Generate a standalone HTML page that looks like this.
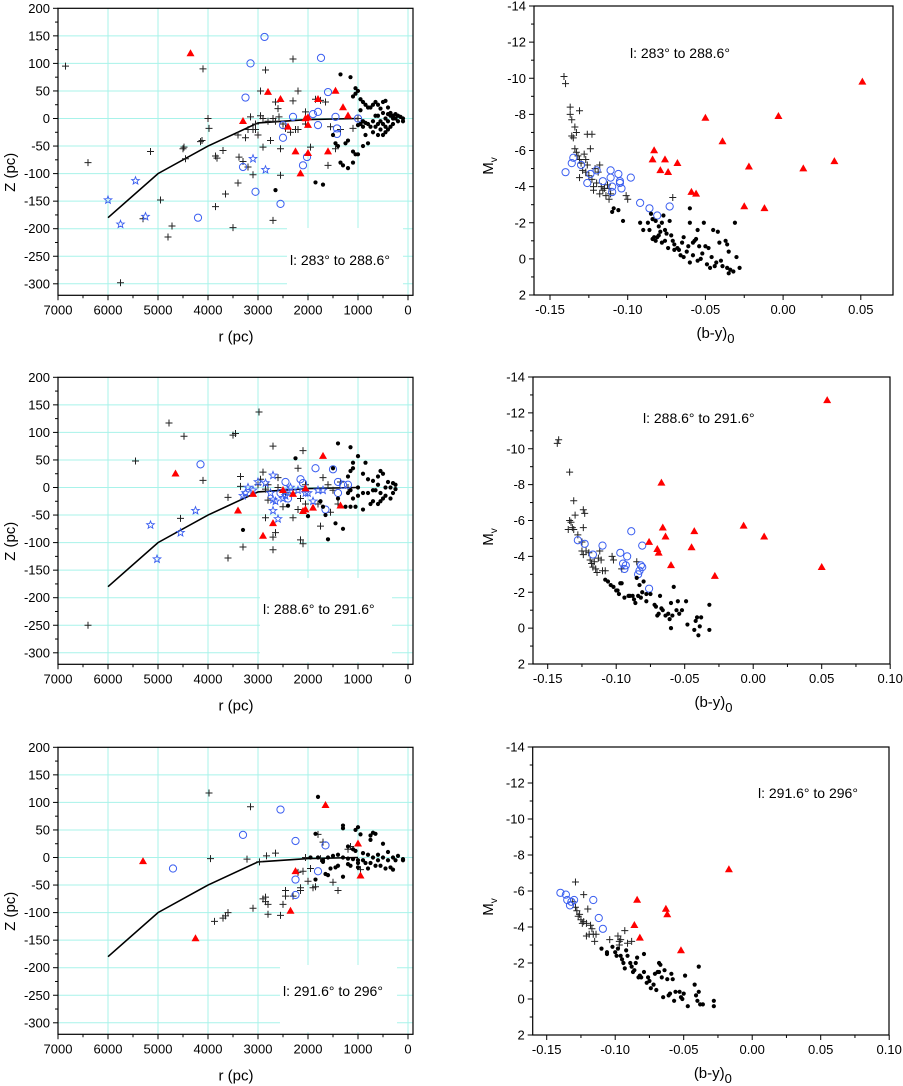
<!DOCTYPE html>
<html><head><meta charset="utf-8"><style>
html,body{margin:0;padding:0;background:#fff;}
svg{display:block;font-family:"Liberation Sans",Arial,sans-serif;}
</style></head><body>
<svg id="fig" width="903" height="1086" viewBox="0 0 903 1086" xmlns="http://www.w3.org/2000/svg"></svg>
<script>
// ---------- Panel 1 (l: 283 to 288.6) ----------
const p1rzPlus=[[6850,95],[6400,-80],[5150,-60],[4950,-148],[4720,-195],[4800,-215],[4100,90],[4000,0],[3980,-18],[4150,-42],[4120,-40],[4500,-55],[4480,-52],[4450,-73],[3850,-68],[3820,-72],[3850,-160],[3700,-58],[3650,-137],[3500,-198],[3400,-117],[3380,-70],[3300,-78],[3250,-35],[3200,-88],[3100,-102],[3150,3],[3100,-20],[3050,-10],[2950,50],[2850,88],[2900,-52],[2700,-185],[2800,-5],[2750,-40],[2650,30],[2600,18],[2580,3],[2550,-55],[2550,-103],[2500,-10],[2450,-18],[2300,32],[2300,108],[2200,50],[2200,-20],[2050,12],[2050,-10],[1950,-52],[1850,35],[1750,33],[1650,30],[1600,-85],[1550,-15],[1450,-55],[1350,-20],[1100,-18],[1000,0],[3000,-30],[2900,0],[2700,0],[2650,-5],[3400,-30],[3200,-20],[2350,-25],[2250,-20],[5750,-298],[5300,-182],[3050,-20],[2950,5]];
const p1rzCirc=[[2870,148],[1740,110],[3150,100],[3250,38],[1600,48],[2300,3],[1900,8],[1800,12],[1450,3],[1000,0],[2500,-12],[2500,-35],[1800,-12],[1420,-18],[1420,-28],[2020,-70],[2100,-85],[3300,-88],[3050,-133],[2550,-155],[4200,-180]];
const p1rzStar=[[6000,-148],[5450,-113],[5750,-192],[5250,-178],[3100,-73],[2850,-93]];
const p1rzTri=[[4350,118],[3300,-5],[2800,48],[2550,35],[2050,0],[2000,2],[2000,-12],[2400,-15],[1800,35],[1450,50],[1300,20],[1200,5],[2250,-60],[2000,-63],[1600,-60],[2150,-100]];
const p1rzDot=[[1700,-120],[1850,-116],[2650,-130],[1350,80],[1150,75],[1500,-30],[1450,-45],[1400,-50],[1350,-80],[1300,-85],[1200,-90],[1100,-80],[1200,-40],[1250,-45],[1100,-60],[1050,-65],[1000,-65],[900,-50],[850,-30],[800,-45],[1100,40],[1050,45],[1000,50],[1050,55],[950,35],[900,30],[850,25],[800,20],[750,20],[700,25],[650,30],[600,25],[550,18],[500,30],[450,32],[400,20],[350,10],[300,5],[250,0],[200,-5],[150,3],[100,0],[100,-5],[250,8],[300,-10],[350,-15],[400,-20],[450,-25],[500,-30],[550,-20],[600,-10],[650,-15],[700,-25],[750,-15],[800,-10],[850,-8],[900,-5],[950,-10],[1000,-12],[600,5],[550,-5],[500,-10],[450,0],[400,-5],[350,5],[300,0],[500,10],[450,-15],[600,-30],[700,-5],[650,5],[400,8],[200,5],[950,15],[900,-15]];
const p1cmPlus=[[-0.141,-10.1],[-0.140,-9.7],[-0.137,-8.4],[-0.137,-8.0],[-0.136,-7.7],[-0.131,-8.2],[-0.134,-7.3],[-0.133,-7.0],[-0.136,-6.8],[-0.135,-6.7],[-0.126,-6.9],[-0.123,-6.9],[-0.134,-6.1],[-0.133,-5.9],[-0.132,-5.7],[-0.131,-5.5],[-0.130,-5.3],[-0.128,-5.8],[-0.127,-5.5],[-0.124,-6.1],[-0.129,-4.9],[-0.131,-4.5],[-0.127,-4.8],[-0.125,-4.6],[-0.123,-4.4],[-0.121,-5.0],[-0.119,-4.8],[-0.118,-5.2],[-0.120,-4.2],[-0.117,-4.0],[-0.116,-3.8],[-0.114,-3.5],[-0.112,-3.3],[-0.111,-3.6],[-0.112,-3.9],[-0.122,-3.8],[-0.118,-3.6],[-0.115,-3.9],[-0.113,-4.1],[-0.101,-3.5],[-0.100,-3.3],[-0.071,-3.4],[-0.126,-5.2],[-0.122,-4.0]];
const p1cmCirc=[[-0.140,-4.8],[-0.136,-5.3],[-0.135,-5.6],[-0.130,-5.2],[-0.126,-4.2],[-0.124,-4.7],[-0.120,-4.9],[-0.116,-4.3],[-0.111,-4.9],[-0.111,-4.5],[-0.110,-4.0],[-0.110,-3.7],[-0.106,-4.7],[-0.105,-4.3],[-0.105,-4.2],[-0.104,-3.9],[-0.098,-4.5],[-0.092,-3.1],[-0.086,-2.8],[-0.081,-2.4],[-0.073,-2.9]];
const p1cmTri=[[0.051,-9.8],[-0.050,-7.8],[-0.003,-7.9],[-0.039,-6.5],[-0.083,-6.0],[-0.084,-5.5],[-0.076,-5.5],[-0.068,-5.3],[-0.079,-4.9],[-0.074,-4.8],[-0.022,-5.1],[0.013,-5.0],[0.033,-5.4],[-0.059,-3.7],[-0.056,-3.6],[-0.025,-2.9],[-0.012,-2.8]];
const p1cmDot=[[-0.110,-2.6],[-0.109,-2.8],[-0.106,-2.7],[-0.103,-2.1],[-0.087,-2.0],[-0.086,-1.6],[-0.085,-2.5],[-0.084,-2.2],[-0.082,-2.1],[-0.080,-1.8],[-0.078,-2.0],[-0.077,-2.4],[-0.075,-1.4],[-0.073,-2.1],[-0.083,-1.2],[-0.082,-1.0],[-0.080,-1.3],[-0.079,-1.5],[-0.078,-0.9],[-0.076,-1.0],[-0.074,-0.6],[-0.072,-1.3],[-0.071,-1.0],[-0.070,-0.5],[-0.068,-0.6],[-0.066,-0.2],[-0.065,-0.9],[-0.064,-1.2],[-0.062,-0.4],[-0.061,-0.7],[-0.060,-2.8],[-0.060,-2.0],[-0.060,0.2],[-0.058,-0.2],[-0.057,-1.0],[-0.056,-1.1],[-0.055,-1.6],[-0.054,-0.7],[-0.053,0.0],[-0.052,-0.3],[-0.051,-2.0],[-0.050,-0.7],[-0.049,0.3],[-0.047,0.5],[-0.046,-0.1],[-0.045,-1.6],[-0.044,0.4],[-0.042,-1.5],[-0.041,-0.9],[-0.040,0.1],[-0.039,0.4],[-0.037,-1.0],[-0.036,0.5],[-0.035,0.8],[-0.034,0.6],[-0.032,0.7],[-0.031,-2.0],[-0.030,-0.1],[-0.028,0.5],[-0.064,-0.1],[-0.067,-0.5],[-0.070,-0.8],[-0.076,-1.6],[-0.090,-1.6],[-0.092,-2.0],[-0.058,-0.9],[-0.048,-0.6],[-0.043,0.2],[-0.036,-0.8],[-0.035,-0.4],[-0.055,0.1],[-0.084,-1.1],[-0.081,-1.2]];
// ---------- Panel 2 (l: 288.6 to 291.6) ----------
const p2rzPlus=[[6400,-250],[5450,48],[4780,117],[4480,93],[4100,13],[4550,-56],[3500,95],[3450,98],[3350,20],[3350,2],[3600,-18],[3300,-108],[3600,-128],[2980,137],[2700,75],[2100,67],[2200,35],[2900,28],[2950,15],[2600,18],[2850,-3],[2800,-23],[2850,-55],[2700,-90],[2650,-82],[2700,-113],[2500,-35],[2300,-55],[2200,-40],[2150,-95],[2100,-102],[1700,18],[1600,5],[1500,-5],[1750,-70],[1550,-45],[1800,-30],[2050,-30],[2150,-20],[2450,-10],[2300,-10],[1400,-30],[1200,0],[3000,5],[2800,5],[2600,0],[2500,-5],[2050,5],[1350,10]];
const p2rzCirc=[[4150,42],[1850,35],[1500,33],[2150,15],[2100,8],[2450,10],[1400,10],[1300,5],[1200,5],[2400,-20],[1650,-40],[1400,-10],[2550,-10]];
const p2rzStar=[[5150,-68],[5020,-130],[4550,-82],[4250,-42],[2700,22],[3000,10],[3200,0],[3100,-5],[3250,-10],[2750,-10],[2700,-22],[2650,-25],[2500,-20],[2450,-15],[2350,0],[2200,-5],[2000,-10],[1900,-25],[1800,-5],[1700,-5],[2700,-42],[2600,-57],[2850,8],[2400,-5],[3300,-15],[2050,-10]];
const p2rzTri=[[4650,25],[3100,-12],[3400,-42],[2900,-88],[2700,-65],[2500,-5],[2300,-12],[2100,-43],[2050,-40],[2050,-2],[1900,-37],[1700,57],[1350,-33]];
const p2rzDot=[[2250,53],[1400,80],[1150,73],[1000,57],[1100,45],[1100,35],[850,45],[1200,20],[1150,30],[900,25],[800,15],[700,12],[600,20],[550,30],[500,25],[400,10],[300,8],[250,5],[250,-3],[300,-10],[350,-20],[450,-15],[500,-20],[550,-25],[600,-30],[700,-25],[750,-30],[900,-40],[1050,-35],[1150,-35],[1250,-35],[1300,-75],[1450,-65],[1600,-94],[1650,-50],[1700,-35],[1750,-25],[2000,-52],[2400,-33],[3300,-77],[1200,-10],[1100,-20],[1000,-15],[900,-10],[1000,0],[1150,-5],[600,5],[550,-10],[450,0],[350,0],[650,-5],[700,-5],[800,-10],[1500,35],[1400,-20]];
const p2cmPlus=[[-0.143,-10.3],[-0.142,-10.5],[-0.134,-8.7],[-0.131,-7.1],[-0.134,-6.0],[-0.133,-5.9],[-0.132,-5.6],[-0.131,-5.5],[-0.135,-5.5],[-0.130,-6.3],[-0.124,-6.6],[-0.123,-6.4],[-0.124,-5.6],[-0.128,-5.2],[-0.125,-4.8],[-0.125,-4.3],[-0.124,-4.1],[-0.122,-4.3],[-0.120,-4.2],[-0.119,-3.8],[-0.118,-3.6],[-0.117,-3.4],[-0.116,-3.7],[-0.115,-3.3],[-0.114,-3.1],[-0.113,-3.9],[-0.112,-4.3],[-0.110,-3.2],[-0.108,-3.2],[-0.111,-3.8],[-0.103,-4.0],[-0.102,-3.8],[-0.096,-3.3],[-0.085,-3.7]];
const p2cmCirc=[[-0.128,-4.9],[-0.123,-4.7],[-0.117,-4.1],[-0.110,-4.6],[-0.097,-4.2],[-0.095,-3.6],[-0.094,-3.3],[-0.093,-3.5],[-0.092,-4.0],[-0.089,-5.4],[-0.084,-3.0],[-0.083,-3.2],[-0.082,-3.5],[-0.081,-3.4],[-0.081,-4.6],[-0.076,-2.2]];
const p2cmTri=[[0.054,-12.7],[-0.067,-8.1],[-0.066,-5.6],[-0.064,-5.1],[-0.076,-4.8],[-0.070,-4.4],[-0.069,-4.2],[-0.060,-3.5],[-0.043,-5.4],[-0.045,-4.5],[-0.028,-2.9],[-0.007,-5.7],[0.008,-5.1],[0.050,-3.4]];
const p2cmDot=[[-0.108,-2.7],[-0.106,-2.6],[-0.104,-2.4],[-0.102,-2.3],[-0.100,-2.1],[-0.099,-2.1],[-0.097,-2.5],[-0.096,-2.5],[-0.098,-1.9],[-0.094,-1.7],[-0.091,-1.8],[-0.090,-1.8],[-0.087,-1.6],[-0.086,-1.4],[-0.085,-2.8],[-0.083,-2.4],[-0.082,-1.7],[-0.081,-2.0],[-0.080,-2.6],[-0.078,-1.9],[-0.078,-1.5],[-0.075,-1.9],[-0.072,-1.3],[-0.070,-0.7],[-0.069,-0.8],[-0.068,-1.8],[-0.067,-1.1],[-0.066,-1.0],[-0.064,-0.7],[-0.062,-0.8],[-0.061,-0.5],[-0.060,-1.4],[-0.060,0.0],[-0.059,-0.7],[-0.058,-2.3],[-0.056,-1.0],[-0.055,-1.5],[-0.054,-0.8],[-0.052,-1.0],[-0.049,-1.5],[-0.048,-0.2],[-0.043,0.1],[-0.042,-0.4],[-0.041,-0.6],[-0.040,0.4],[-0.039,-0.1],[-0.038,-0.6],[-0.032,-1.3],[-0.032,0.1],[-0.084,-1.8],[-0.088,-1.8],[-0.071,-1.2]];
// ---------- Panel 3 (l: 291.6 to 296) ----------
const p3rzPlus=[[3980,117],[3150,92],[3950,-2],[3220,-3],[2970,-8],[2830,3],[2650,8],[2050,0],[1800,42],[1700,28],[1150,20],[1200,15],[2100,-25],[2200,-27],[1950,-20],[2000,-43],[1850,-53],[1900,-55],[1500,-45],[1400,-60],[2150,-55],[2150,-60],[2450,-60],[2450,-70],[2500,-85],[2300,-70],[2900,-75],[2850,-80],[2850,-72],[2800,-85],[3100,-92],[2800,-103],[2550,-105],[3600,-100],[3650,-106],[3700,-110],[3870,-116],[950,-22],[1750,-2]];
const p3rzCirc=[[2550,87],[3300,41],[2250,30],[1650,22],[4700,-20],[1800,-25],[2250,-40],[2250,-68]];
const p3rzStar=[];
const p3rzTri=[[1650,95],[1000,25],[5300,-7],[4250,-147],[2250,-25],[2350,-97],[950,-33]];
const p3rzDot=[[1800,110],[1850,43],[1300,58],[1300,53],[1000,55],[1050,50],[950,42],[700,45],[650,43],[750,40],[750,32],[500,25],[1200,20],[1100,15],[1050,12],[1400,5],[1500,3],[1300,0],[1200,-2],[1100,-3],[1000,-5],[900,8],[800,5],[700,0],[600,-5],[500,0],[400,-5],[300,0],[200,3],[100,-3],[100,-5],[850,-10],[750,-10],[650,-15],[550,-15],[450,-20],[350,-18],[300,-22],[800,-20],[1300,-35],[1550,-20],[1400,-15],[1000,-18],[1200,-12],[1800,0],[1950,0],[1600,0],[1700,-5],[1650,-30],[1600,-32],[1850,-40],[1700,-8],[900,-5],[600,5],[400,10],[250,-5],[1000,-10],[1450,-18],[1150,-15]];
const p3cmPlus=[[-0.129,-6.5],[-0.123,-5.8],[-0.131,-5.4],[-0.129,-5.1],[-0.128,-4.9],[-0.127,-4.6],[-0.125,-4.4],[-0.124,-4.2],[-0.123,-4.3],[-0.120,-5.0],[-0.118,-4.1],[-0.117,-3.9],[-0.116,-3.6],[-0.115,-3.2],[-0.114,-3.6],[-0.119,-3.6],[-0.121,-3.5],[-0.104,-3.3],[-0.098,-3.5],[-0.097,-3.2],[-0.096,-3.3],[-0.093,-3.8],[-0.091,-3.1],[-0.088,-3.2],[-0.097,-3.0],[-0.126,-4.7],[-0.121,-4.2]];
const p3cmCirc=[[-0.140,-5.9],[-0.136,-5.8],[-0.135,-5.5],[-0.133,-5.2],[-0.130,-5.5],[-0.116,-5.5],[-0.112,-4.5],[-0.109,-3.9],[-0.132,-5.4]];
const p3cmTri=[[-0.017,-7.2],[-0.084,-5.5],[-0.063,-5.0],[-0.062,-4.7],[-0.086,-4.1],[-0.082,-3.4],[-0.052,-2.7]];
const p3cmDot=[[-0.110,-2.8],[-0.106,-2.6],[-0.106,-2.5],[-0.102,-2.9],[-0.100,-2.6],[-0.099,-2.4],[-0.098,-2.8],[-0.096,-2.4],[-0.095,-2.2],[-0.094,-2.0],[-0.093,-1.7],[-0.092,-2.7],[-0.091,-2.4],[-0.089,-2.0],[-0.088,-1.8],[-0.087,-1.5],[-0.086,-1.6],[-0.085,-2.0],[-0.084,-2.3],[-0.083,-1.2],[-0.082,-1.3],[-0.081,-1.2],[-0.079,-2.5],[-0.079,-1.5],[-0.077,-0.9],[-0.076,-1.2],[-0.075,-1.0],[-0.074,-0.6],[-0.072,-0.8],[-0.071,-1.4],[-0.070,-0.5],[-0.069,-1.5],[-0.068,-2.0],[-0.067,-1.9],[-0.066,-1.2],[-0.065,-0.1],[-0.064,-1.6],[-0.062,-1.1],[-0.059,-1.4],[-0.058,-1.1],[-0.057,0.1],[-0.056,-0.4],[-0.053,-0.4],[-0.052,-0.1],[-0.051,0.0],[-0.050,-0.3],[-0.049,-1.3],[-0.047,0.4],[-0.042,-0.8],[-0.041,-0.2],[-0.040,0.1],[-0.039,-0.4],[-0.039,-1.8],[-0.038,0.3],[-0.036,0.3],[-0.028,0.1],[-0.028,0.4],[-0.060,-0.3],[-0.061,-0.2],[-0.068,-1.5]];
// model curve (same in all r-Z panels)
const modelR=[6000,5000,4000,3000,2000,1000];
const modelZ=[-180,-100,-50,-8,-2,0];
// tick labels
const rTicks=[7000,6000,5000,4000,3000,2000,1000,0];
const zTicks=[200,150,100,50,0,-50,-100,-150,-200,-250,-300];
const byTicks1=["-0.15","-0.10","-0.05","0.00","0.05"];
const byTicks23=["-0.15","-0.10","-0.05","0.00","0.05","0.10"];
const mvTicks=[-14,-12,-10,-8,-6,-4,-2,0,2];
const labels=["l: 283\u00b0 to 288.6\u00b0","l: 288.6\u00b0 to 291.6\u00b0","l: 291.6\u00b0 to 296\u00b0"];

const NS="http://www.w3.org/2000/svg";
const svg=document.getElementById('fig');
function el(tag,attrs,parent){const e=document.createElementNS(NS,tag);for(const k in attrs)e.setAttribute(k,attrs[k]);(parent||svg).appendChild(e);return e;}

function plus(g,x,y){const e=el('path',{d:`M${x-3.5},${y}H${x+3.5}M${x},${y-3.5}V${y+3.5}`,stroke:'#222','stroke-width':1,fill:'none'},g);

}
function circ(g,x,y){const e=el('circle',{cx:x,cy:y,r:3.6,stroke:'#3a5ef0','stroke-width':1,fill:'none'},g);

}
function dot(g,x,y){const e=el('circle',{cx:x,cy:y,r:2.1,fill:'#000'},g);

}
function tri(g,x,y){const e=el('path',{d:`M${x},${y-4.2}L${x+4},${y+2.8}L${x-4},${y+2.8}Z`,fill:'#f00'},g);

}
function star(g,x,y){let d='';for(let i=0;i<10;i++){const a=-Math.PI/2+i*Math.PI/5;const rr=i%2?1.7:4;d+=(i?'L':'M')+(x+rr*Math.cos(a)).toFixed(2)+','+(y+rr*Math.sin(a)).toFixed(2);}
const e=el('path',{d:d+'Z',stroke:'#3a5ef0','stroke-width':0.9,fill:'none'},g);

}

function rzPanel(idx,top,plusD,circD,starD,triD,dotD,lab){
  const g=el('g',{});
  
  
  const L=58,R=413,B=top+287;
  const X=r=>58+(7000-r)*0.05;
  const Y=z=>top+(200-z)*275.5/500;
  // grid
  for(const r of [6000,5000,4000,3000,2000,1000,0]) el('line',{x1:X(r),x2:X(r),y1:top,y2:B,stroke:'#a8f3ea','stroke-width':1},g);
  for(let z=150;z>=-300;z-=50) el('line',{x1:L,x2:R,y1:Y(z),y2:Y(z),stroke:'#a8f3ea','stroke-width':1},g);
  // label box
  const bx=[287,260,280][idx], bw=[116,132,117][idx], by=[228,578,965][idx]-[0,0,0][idx];
  el('rect',{x:bx,y:by,width:bw,height:B-by-2,fill:'#fff'},g);
  // model
  let d='';modelR.forEach((r,i)=>{d+=(i?'L':'M')+X(r)+','+Y(modelZ[i]);});
  const m=el('path',{d:d,stroke:'#000','stroke-width':1.6,fill:'none'},g);
  
  
  plusD.forEach(p=>plus(g,X(p[0]),Y(p[1])));
  starD.forEach(p=>star(g,X(p[0]),Y(p[1])));
  circD.forEach(p=>circ(g,X(p[0]),Y(p[1])));
  dotD.forEach(p=>dot(g,X(p[0]),Y(p[1])));
  triD.forEach(p=>tri(g,X(p[0]),Y(p[1])));
  el('rect',{x:L,y:top,width:R-L,height:B-top,fill:'none',stroke:'#000','stroke-width':1.2},g);
  // ticks
  for(let r=7000;r>=0;r-=500){el('line',{x1:X(r),x2:X(r),y1:B,y2:B+(r%1000?3:5),stroke:'#000'},g);}
  for(let z=200;z>=-300;z-=25){el('line',{x1:L,x2:L-(z%50?3:5),y1:Y(z),y2:Y(z),stroke:'#000'},g);}
  rTicks.forEach(r=>{const t=el('text',{x:X(r),y:B+19,'font-size':13,'text-anchor':'middle'},g);t.textContent=r;
    
    });
  zTicks.forEach(z=>{const t=el('text',{x:50,y:Y(z)+4.5,'font-size':13,'text-anchor':'end'},g);t.textContent=z;
    
    });
  const xt=el('text',{x:236,y:B+46,'font-size':15,'text-anchor':'middle'},g);xt.textContent='r (pc)';
  
  
  const yt=el('text',{x:0,y:0,'font-size':15,'text-anchor':'middle',transform:`translate(15,${top+164}) rotate(-90)`},g);yt.textContent='Z (pc)';
  
  
  const lt=el('text',{x:bx+3,y:[265,614,996][idx],'font-size':14},g);lt.textContent=lab;
  
  
}

function cmPanel(idx,L,R,top,B,x15,pxPer05,ticks,plusD,circD,triD,dotD,lab,lx,ly){
  const g=el('g',{});
  
  
  const X=v=>x15+(v+0.15)/0.05*pxPer05;
  const Y=m=>top+(m+14)/16*(B-top);
  plusD.forEach(p=>plus(g,X(p[0]),Y(p[1])));
  circD.forEach(p=>circ(g,X(p[0]),Y(p[1])));
  dotD.forEach(p=>dot(g,X(p[0]),Y(p[1])));
  triD.forEach(p=>tri(g,X(p[0]),Y(p[1])));
  el('rect',{x:L,y:top,width:R-L,height:B-top,fill:'none',stroke:'#000','stroke-width':1.2},g);
  for(let k=-6;k<=10;k++){const v=k*0.025;const x=X(v);if(x<L-0.5||x>R+0.5)continue;el('line',{x1:x,x2:x,y1:B,y2:B+(k%2?3:5),stroke:'#000'},g);}
  for(let m=-14;m<=2;m++){el('line',{x1:L,x2:L-(m%2?3:5),y1:Y(m),y2:Y(m),stroke:'#000'},g);}
  ticks.forEach(s=>{const t=el('text',{x:X(parseFloat(s)),y:B+19,'font-size':13,'text-anchor':'middle'},g);t.textContent=s;
    
    });
  mvTicks.forEach(m=>{const t=el('text',{x:L-8,y:Y(m)+4.5,'font-size':13,'text-anchor':'end'},g);t.textContent=m;
    
    });
  const xt=el('text',{x:(L+R)/2+2,y:B+43,'font-size':15,'text-anchor':'middle'},g);
  xt.innerHTML='(b-y)<tspan font-size="13" dy="5">0</tspan>';
  
  
  const yt=el('text',{x:0,y:0,'font-size':15,'text-anchor':'middle',transform:`translate(493,${top+160}) rotate(-90)`},g);
  yt.innerHTML='M<tspan font-size="10" dy="4">v</tspan>';
  
  
  const lt=el('text',{x:lx,y:ly,'font-size':14},g);lt.textContent=lab;
  
  
}

rzPanel(0,8.3,p1rzPlus,p1rzCirc,p1rzStar,p1rzTri,p1rzDot,labels[0]);
rzPanel(1,377.3,p2rzPlus,p2rzCirc,p2rzStar,p2rzTri,p2rzDot,labels[1]);
rzPanel(2,747.3,p3rzPlus,p3rzCirc,p3rzStar,p3rzTri,p3rzDot,labels[2]);
cmPanel(0,534,893,6,295,550,77.7,byTicks1,p1cmPlus,p1cmCirc,p1cmTri,p1cmDot,labels[0],630,58);
cmPanel(1,533,890,377,664,547.7,68.5,byTicks23,p2cmPlus,p2cmCirc,p2cmTri,p2cmDot,labels[1],643,423);
cmPanel(2,532.7,889,747,1035,546.7,68.5,byTicks23,p3cmPlus,p3cmCirc,p3cmTri,p3cmDot,labels[2],758,798);
</script>
</body></html>
